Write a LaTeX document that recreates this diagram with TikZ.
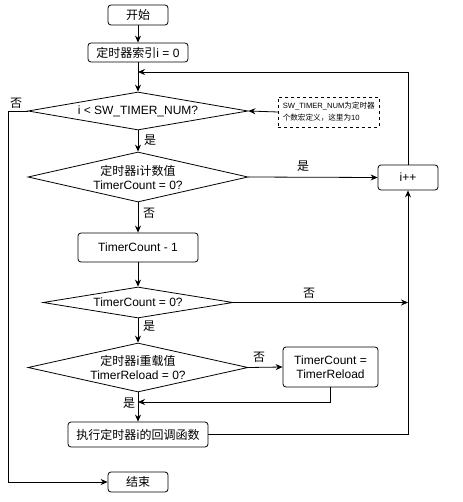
\documentclass[tikz,border=0pt]{standalone}
\usepackage{fontspec}
\setmainfont{Liberation Sans}
\newfontfamily\cjk{Noto Sans CJK SC}
\usetikzlibrary{shapes.geometric,arrows.meta}
\begin{document}
\begin{tikzpicture}[x=1pt,y=-1pt, font=\fontsize{12}{14}\selectfont,
 box/.style={draw,rounded corners=3pt,inner sep=0pt,line width=0.8pt,align=center},
 dia/.style={draw,diamond,inner sep=0pt,line width=0.8pt,align=center},
 arr/.style={-{Stealth[length=7pt,width=6pt]},line width=0.8pt},
 lbl/.style={inner sep=0pt,font=\cjk\fontsize{12}{14}\selectfont}]
\useasboundingbox (0,0) rectangle (462,502);
\node[box,minimum width=60pt,minimum height=20pt] (start) at (138,15) {\cjk 开始};
\node[box,minimum width=100pt,minimum height=19pt] (init) at (138,52.5) {{\cjk 定时器索引}i = 0};
\node[dia,shape aspect=5.8,minimum width=220pt,minimum height=38pt] (d1) at (138,111) {i < SW\_TIMER\_NUM?};
\node[draw,dashed,line width=0.6pt,minimum width=101pt,minimum height=30pt,inner sep=1.5pt,align=left,font=\fontsize{7.6}{12}\selectfont,anchor=west] (note) at (278,112) {SW\_TIMER\_NUM{\cjk 为定时器}\\{\cjk 个数宏定义，这里为}10};
\node[dia,shape aspect=4.4,minimum width=220pt,minimum height=50pt] (d2) at (138,177) {{\cjk 定时器i计数值}\\TimerCount = 0?};
\node[box,minimum width=60pt,minimum height=25pt] (inc) at (408,177.5) {i++};
\node[box,minimum width=120pt,minimum height=29pt] (dec) at (138,247.5) {TimerCount - 1};
\node[dia,shape aspect=6.1,minimum width=190pt,minimum height=31pt] (d3) at (138,302.5) {TimerCount = 0?};
\node[dia,shape aspect=4.4,minimum width=220pt,minimum height=49pt] (d4) at (138,367.5) {{\cjk 定时器i重载值}\\TimerReload = 0?};
\node[box,minimum width=95pt,minimum height=40pt] (reload) at (330.5,367) {TimerCount =\\TimerReload};
\node[box,minimum width=140pt,minimum height=25pt] (cb) at (138,434.5) {\cjk 执行定时器i的回调函数};
\node[box,minimum width=60pt,minimum height=20pt] (end) at (138,482) {\cjk 结束};
\coordinate (loopin) at (138,72);
\coordinate (lft) at (8,482);
\coordinate (merge) at (138,402);
\draw[arr] (start) -- (init);
\draw[arr] (init) -- (d1);
\draw[arr] (inc.north) |- (loopin);
\draw[arr] (note.west) -- (d1.east);
\draw[arr] (d1.west) -| (lft) -- (end.west);
\draw[arr] (d1) -- (d2);
\draw[arr] (d2.east) -- (inc.west);
\draw[arr] (d2) -- (dec);
\draw[arr] (dec) -- (d3);
\draw[arr] (d3.east) -- (d3.east -| inc);
\draw[arr] (d3) -- (d4);
\draw[arr] (d4.east) -- (reload.west);
\draw[arr] (reload.south) |- (merge);
\draw[arr] (d4) -- (cb);
\draw[arr] (cb.east) -| (inc.south);
\node[lbl] (l1) at (16,103) {否};
\node[lbl] (l2) at (150,140) {是};
\node[lbl] (l3) at (303,166) {是};
\node[lbl] (l4) at (149,213) {否};
\node[lbl] (l5) at (309,293) {否};
\node[lbl] (l6) at (149,326) {是};
\node[lbl] (l7) at (259,357) {否};
\node[lbl] (l8) at (129,403) {是};
\end{tikzpicture}
\end{document}
